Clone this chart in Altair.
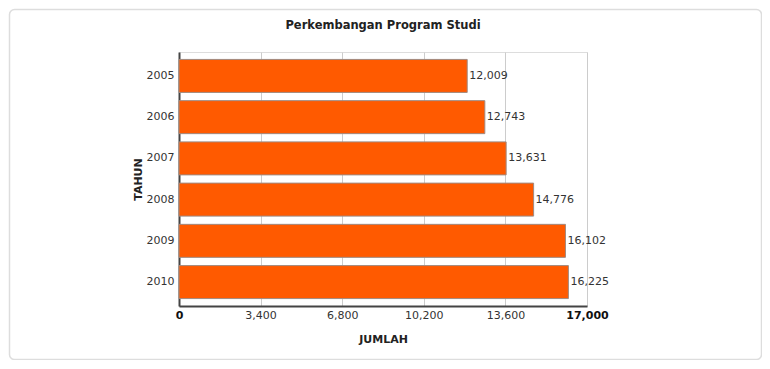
import altair as alt
import pandas as pd

years = ["2005", "2006", "2007", "2008", "2009", "2010"]
jumlah = [12009, 12743, 13631, 14776, 16102, 16225]
ticks = [0, 3400, 6800, 10200, 13600, 17000]

df = pd.DataFrame({"TAHUN": years, "JUMLAH": jumlah})
frame_df = pd.DataFrame({"k": [0]})

FONT = "DejaVu Sans"

x_enc = alt.X(
    "JUMLAH:Q",
    scale=alt.Scale(domain=[0, 17000], nice=False),
    axis=alt.Axis(
        values=ticks,
        format=",.0f",
        title="JUMLAH",
        titleFont=FONT,
        titleFontSize=11,
        titleFontWeight="bold",
        titleColor="#222",
        titlePadding=13,
        labelFont=FONT,
        labelFontSize=11,
        labelPadding=3,
        labelFontWeight={
            "condition": {"test": "datum.value == 0 || datum.value == 17000", "value": "bold"},
            "value": "normal",
        },
        labelColor={
            "condition": {"test": "datum.value == 0 || datum.value == 17000", "value": "#111"},
            "value": "#333",
        },
        labelFlush=False,
        ticks=False,
        grid=True,
        gridColor="#cccccc",
        gridWidth=1,
        domainColor="#444",
        domainWidth=2,
    ),
)
y_enc = alt.Y(
    "TAHUN:N",
    sort=years,
    scale=alt.Scale(paddingInner=0.2, paddingOuter=0.18),
    axis=alt.Axis(
        title="TAHUN",
        titleFont=FONT,
        titleFontSize=11,
        titleFontWeight="bold",
        titleColor="#222",
        titlePadding=3,
        labelFont=FONT,
        labelFontSize=11,
        labelColor="#333",
        labelPadding=5,
        ticks=False,
        grid=False,
        domainColor="#444",
        domainWidth=2,
    ),
)

bars = alt.Chart(df).mark_bar(
    color="#FF5A00", stroke="#a08a80", strokeWidth=1
).encode(x=x_enc, y=y_enc)

labels = alt.Chart(df).mark_text(
    align="left", baseline="middle", dx=2, font=FONT, fontSize=11, color="#333"
).encode(
    x=alt.X("JUMLAH:Q"),
    y=alt.Y("TAHUN:N", sort=years),
    text=alt.Text("JUMLAH:Q", format=",.0f"),
)

border = alt.Chart(frame_df).mark_rect(
    fill=None, stroke="#dddddd", strokeWidth=1.5, cornerRadius=5
).encode(
    x=alt.value(-169.5), x2=alt.value(582.5), y=alt.value(-42.5), y2=alt.value(307.5)
)

chart = alt.layer(border, bars, labels).properties(
    width=408,
    height=254,
    title=alt.TitleParams(
        "Perkembangan Program Studi",
        font=FONT,
        fontSize=11.5,
        fontWeight="bold",
        color="#222",
        anchor="middle",
        offset=-23,
    ),
    autosize=alt.AutoSizeParams(type="none"),
    padding={"left": 171, "top": 44, "right": 175, "bottom": 54},
).configure_view(
    stroke="#444", strokeWidth=2
).configure(background="white")

chart.save("out.html", embed_options={"renderer": "svg", "actions": False})
